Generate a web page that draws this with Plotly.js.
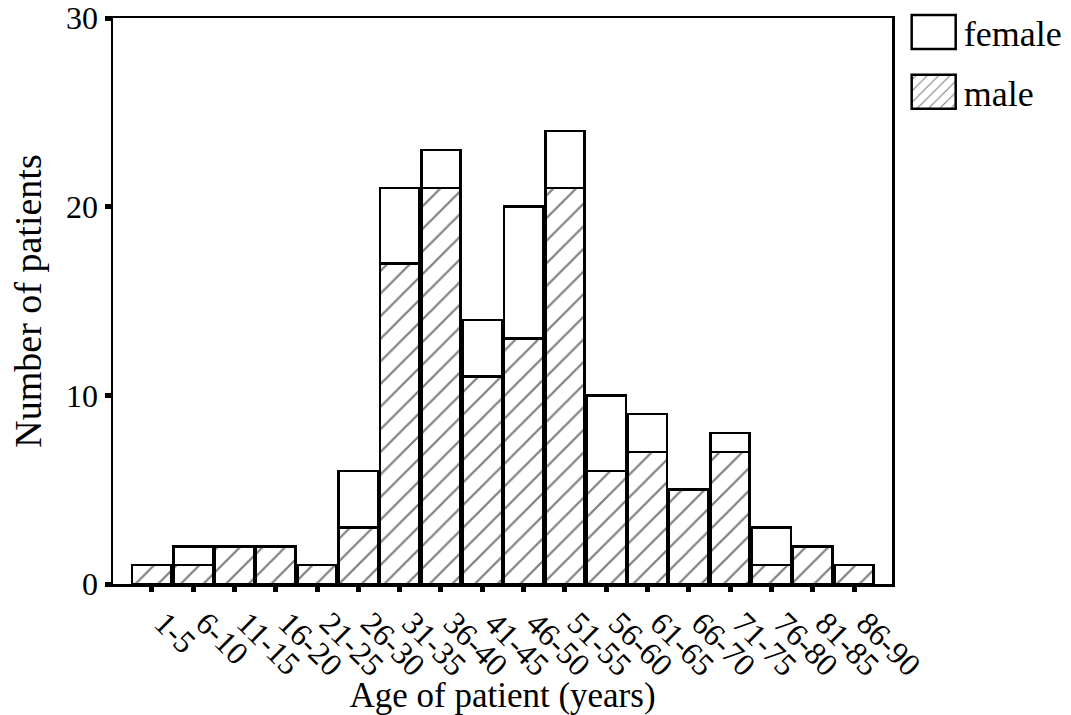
<!DOCTYPE html>
<html>
<head>
<meta charset="utf-8">
<script src="https://cdn.plot.ly/plotly-3.0.1.min.js"></script>
<style>html,body{margin:0;padding:0;background:#fff;}#chart{width:1071px;height:715px;}</style>
</head>
<body>
<div id="chart"></div>
<script>
const categories = ['1-5','6-10','11-15','16-20','21-25','26-30','31-35','36-40','41-45','46-50','51-55','56-60','61-65','66-70','71-75','76-80','81-85','86-90'];
const maleCounts = [1,1,2,2,1,3,17,21,11,13,21,6,7,5,7,1,2,1];
const femaleCounts = [0,1,0,0,0,3,4,2,3,7,3,4,2,0,1,2,0,0];
const yTicks = [0,10,20,30];

const FONT = 'Liberation Serif, Times New Roman, serif';

const male = {
  type: 'bar', name: 'male', x: categories, y: maleCounts, legendgroup: 'm', legendrank: 2,
  marker: {color: 'white', line: {color: 'black', width: 2.5},
    pattern: {shape: '/', size: 16, solidity: 0.14, fgcolor: 'black', bgcolor: 'white', fillmode: 'overlay'}},
  hoverinfo: 'skip'
};
const female = {
  type: 'bar', name: 'female', x: categories, y: femaleCounts, legendgroup: 'f', legendrank: 1,
  marker: {color: 'white', line: {color: 'black', width: 2.5}},
  hoverinfo: 'skip'
};

const layout = {
  width: 1071, height: 715,
  margin: {l: 113, r: 179, t: 18, b: 131, autoexpand: false},
  paper_bgcolor: 'white', plot_bgcolor: 'white',
  barmode: 'stack', bargap: 0.05,
  font: {family: FONT, color: 'black'},
  showlegend: true,
  legend: {x: 1.015, y: 1.028, xanchor: 'left', yanchor: 'top', font: {size: 36, family: FONT},
    traceorder: 'grouped', itemwidth: 50, tracegroupgap: 10, bgcolor: 'rgba(0,0,0,0)'},
  xaxis: {
    type: 'category', range: [-0.94, 17.92], tickangle: 45,
    showline: true, linecolor: 'black', linewidth: 2.5, mirror: true,
    ticks: 'outside', ticklen: 5, tickwidth: 5, tickcolor: 'black',
    ticklabelshift: 12, ticklabelstandoff: 0,
    tickfont: {size: 32, family: FONT}, showgrid: false, zeroline: false,
    title: {text: 'Age of patient (years)', font: {size: 35, family: FONT}, standoff: 2}
  },
  yaxis: {
    range: [0, 30], tickvals: yTicks, ticktext: yTicks.map(String),
    showline: true, linecolor: 'black', linewidth: 2.5, mirror: true,
    ticks: 'outside', ticklen: 6, tickwidth: 5, tickcolor: 'black',
    tickfont: {size: 32, family: FONT}, showgrid: false, zeroline: false,
    title: {text: 'Number of patients', font: {size: 38, family: FONT}, standoff: 13}
  }
};

Plotly.newPlot('chart', [male, female], layout, {staticPlot: true}).then(function(gd){
  const pts = gd.querySelectorAll('.legend .legendpoints path');
  pts.forEach(function(p){ p.setAttribute('d', 'M22,17H-22V-17H22Z'); });
});
</script>
</body>
</html>
